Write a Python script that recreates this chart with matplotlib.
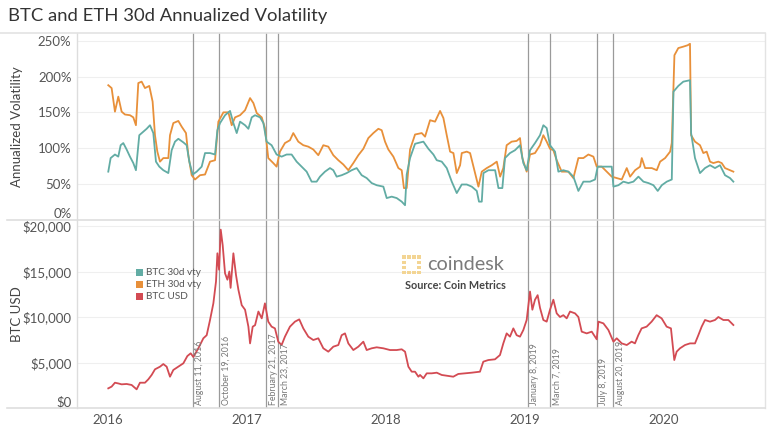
import matplotlib
matplotlib.use("Agg")
import matplotlib.pyplot as plt
from matplotlib.patches import Rectangle
from matplotlib.lines import Line2D
import datetime as dt

# ---------------- data ----------------
eth_vol_t = [2016.002, 2016.026, 2016.050, 2016.074, 2016.098, 2016.122, 2016.158, 2016.182, 2016.201, 2016.218,
             2016.242, 2016.266, 2016.297, 2016.321, 2016.338, 2016.355, 2016.374, 2016.398, 2016.434, 2016.446,
             2016.470, 2016.506, 2016.530, 2016.561, 2016.578, 2016.602, 2016.626, 2016.662, 2016.698, 2016.734,
             2016.770, 2016.794, 2016.830, 2016.866, 2016.890, 2016.914, 2016.950, 2016.986, 2017.022, 2017.046,
             2017.070, 2017.106, 2017.129, 2017.153, 2017.189, 2017.213, 2017.237, 2017.273, 2017.309, 2017.333,
             2017.369, 2017.405, 2017.441, 2017.477, 2017.513, 2017.549, 2017.585, 2017.621, 2017.657, 2017.693,
             2017.729, 2017.765, 2017.801, 2017.837, 2017.873, 2017.909, 2017.945, 2017.969, 2017.993, 2018.017,
             2018.053, 2018.089, 2018.113, 2018.129, 2018.149, 2018.173, 2018.209, 2018.257, 2018.281, 2018.317,
             2018.353, 2018.389, 2018.413, 2018.437, 2018.461, 2018.485, 2018.509, 2018.533, 2018.545, 2018.581,
             2018.605, 2018.629, 2018.665, 2018.689, 2018.725, 2018.761, 2018.797, 2018.821, 2018.844, 2018.868,
             2018.904, 2018.940, 2018.964, 2018.981, 2019.012, 2019.036, 2019.072, 2019.108, 2019.132, 2019.156,
             2019.180, 2019.204, 2019.228, 2019.264, 2019.312, 2019.348, 2019.384, 2019.420, 2019.456, 2019.492,
             2019.516, 2019.552, 2019.588, 2019.624, 2019.660, 2019.696, 2019.732, 2019.756, 2019.792, 2019.828,
             2019.840, 2019.864, 2019.912, 2019.948, 2019.972, 2020.008, 2020.044, 2020.056, 2020.075, 2020.103,
             2020.139, 2020.171, 2020.187, 2020.195, 2020.223, 2020.259, 2020.283, 2020.307, 2020.331, 2020.355,
             2020.391, 2020.415, 2020.439, 2020.475, 2020.499]
eth_vol = [188, 184, 151, 172, 151, 147, 146, 143, 132, 191,
           193, 184, 187, 165, 118, 95, 81, 86, 86, 118,
           135, 138, 130, 121, 90, 62, 56, 62, 63, 81,
           83, 137, 150, 150, 132, 143, 146, 153, 170, 163,
           149, 143, 128, 86, 79, 74, 95, 107, 111, 121,
           109, 104, 102, 98, 90, 104, 102, 90, 83, 77,
           69, 79, 90, 99, 114, 121, 127, 125, 109, 98,
           88, 72, 69, 44, 44, 98, 119, 121, 116, 139,
           137, 152, 142, 118, 95, 93, 65, 76, 93, 95,
           93, 74, 46, 67, 72, 76, 81, 60, 72, 104,
           109, 110, 114, 86, 67, 91, 93, 104, 118, 109,
           99, 97, 83, 67, 67, 58, 86, 86, 91, 88,
           74, 74, 67, 60, 58, 56, 72, 60, 69, 74,
           86, 72, 72, 69, 81, 86, 95, 107, 230, 240,
           242, 244, 246, 118, 109, 104, 93, 95, 81, 79,
           81, 79, 72, 69, 67]

btc_vol_t = [2016.002, 2016.019, 2016.050, 2016.074, 2016.091, 2016.110, 2016.134, 2016.158, 2016.182, 2016.201,
             2016.225, 2016.254, 2016.278, 2016.302, 2016.326, 2016.345, 2016.369, 2016.398, 2016.434, 2016.458,
             2016.482, 2016.506, 2016.542, 2016.566, 2016.585, 2016.609, 2016.638, 2016.674, 2016.698, 2016.734,
             2016.770, 2016.787, 2016.806, 2016.842, 2016.878, 2016.902, 2016.926, 2016.950, 2016.986, 2017.010,
             2017.034, 2017.058, 2017.094, 2017.118, 2017.141, 2017.177, 2017.213, 2017.249, 2017.285, 2017.321,
             2017.357, 2017.393, 2017.429, 2017.465, 2017.501, 2017.525, 2017.561, 2017.597, 2017.621, 2017.645,
             2017.681, 2017.717, 2017.753, 2017.789, 2017.825, 2017.861, 2017.897, 2017.933, 2017.981, 2018.005,
             2018.041, 2018.077, 2018.113, 2018.137, 2018.149, 2018.173, 2018.209, 2018.269, 2018.305, 2018.341,
             2018.365, 2018.401, 2018.437, 2018.473, 2018.509, 2018.545, 2018.581, 2018.617, 2018.653, 2018.669,
             2018.689, 2018.701, 2018.737, 2018.785, 2018.809, 2018.837, 2018.856, 2018.892, 2018.928, 2018.964,
             2018.988, 2019.012, 2019.036, 2019.072, 2019.108, 2019.132, 2019.156, 2019.180, 2019.216, 2019.240,
             2019.276, 2019.312, 2019.348, 2019.384, 2019.420, 2019.468, 2019.504, 2019.523, 2019.552, 2019.588,
             2019.624, 2019.636, 2019.672, 2019.708, 2019.744, 2019.780, 2019.816, 2019.852, 2019.888, 2019.924,
             2019.955, 2019.984, 2020.020, 2020.056, 2020.068, 2020.103, 2020.139, 2020.187, 2020.195, 2020.223,
             2020.259, 2020.295, 2020.331, 2020.367, 2020.403, 2020.439, 2020.475, 2020.499]
btc_vol = [67, 86, 91, 88, 104, 107, 98, 88, 79, 69,
           118, 123, 127, 132, 121, 81, 74, 69, 65, 97,
           109, 113, 108, 104, 81, 63, 67, 74, 93, 93,
           91, 125, 135, 146, 152, 135, 121, 137, 132, 127,
           143, 146, 143, 135, 109, 104, 91, 88, 91, 91,
           81, 74, 67, 53, 53, 60, 67, 72, 69, 60,
           62, 65, 69, 72, 62, 58, 51, 48, 46, 30,
           32, 30, 25, 20, 63, 86, 106, 109, 99, 91,
           83, 81, 72, 53, 37, 49, 49, 46, 40, 25,
           25, 65, 69, 69, 44, 44, 86, 93, 97, 104,
           79, 69, 97, 107, 118, 132, 128, 104, 95, 67,
           69, 67, 60, 40, 53, 53, 56, 74, 74, 74,
           74, 46, 48, 53, 51, 53, 60, 53, 51, 48,
           40, 48, 53, 56, 179, 187, 193, 195, 121, 86,
           65, 72, 76, 72, 76, 62, 58, 53]

price_t = [2016.002, 2016.026, 2016.050, 2016.074, 2016.098, 2016.134, 2016.170, 2016.206, 2016.230, 2016.266,
           2016.290, 2016.314, 2016.338, 2016.374, 2016.398, 2016.422, 2016.446, 2016.470, 2016.506, 2016.542,
           2016.571, 2016.595, 2016.614, 2016.650, 2016.686, 2016.710, 2016.734, 2016.758, 2016.777, 2016.787,
           2016.799, 2016.811, 2016.825, 2016.842, 2016.859, 2016.873, 2016.882, 2016.902, 2016.921, 2016.938,
           2016.962, 2016.986, 2017.010, 2017.022, 2017.041, 2017.058, 2017.082, 2017.106, 2017.129, 2017.153,
           2017.177, 2017.201, 2017.225, 2017.249, 2017.273, 2017.309, 2017.345, 2017.376, 2017.405, 2017.441,
           2017.477, 2017.513, 2017.549, 2017.585, 2017.621, 2017.657, 2017.681, 2017.705, 2017.729, 2017.765,
           2017.801, 2017.837, 2017.861, 2017.897, 2017.933, 2017.981, 2018.029, 2018.077, 2018.113, 2018.137,
           2018.161, 2018.185, 2018.209, 2018.233, 2018.245, 2018.269, 2018.293, 2018.329, 2018.365, 2018.401,
           2018.448, 2018.484, 2018.520, 2018.568, 2018.616, 2018.676, 2018.700, 2018.736, 2018.784, 2018.820,
           2018.844, 2018.868, 2018.892, 2018.916, 2018.940, 2018.964, 2018.988, 2019.012, 2019.036, 2019.053,
           2019.072, 2019.091, 2019.108, 2019.132, 2019.156, 2019.180, 2019.204, 2019.228, 2019.252, 2019.276,
           2019.300, 2019.324, 2019.360, 2019.384, 2019.408, 2019.444, 2019.480, 2019.516, 2019.528, 2019.564,
           2019.600, 2019.636, 2019.660, 2019.696, 2019.732, 2019.767, 2019.791, 2019.815, 2019.839, 2019.875,
           2019.911, 2019.947, 2019.983, 2020.019, 2020.050, 2020.074, 2020.091, 2020.115, 2020.151, 2020.187,
           2020.223, 2020.247, 2020.271, 2020.295, 2020.331, 2020.367, 2020.391, 2020.427, 2020.463, 2020.499]
price_usd = [2160, 2350, 2780, 2700, 2600, 2640, 2530, 2050, 2780, 2780,
             3150, 3630, 4250, 4540, 4830, 4540, 3440, 4180, 4540, 4910,
             5710, 6010, 5600, 6560, 7660, 8000, 9670, 11500, 13900, 17000,
             15200, 19600, 17900, 14800, 14100, 15000, 13200, 17000, 14600, 13000,
             11300, 10800, 8940, 7100, 8940, 9100, 10600, 9850, 11500, 9490,
             8940, 8750, 7290, 6920, 7840, 8940, 9490, 9740, 8750, 7840,
             7470, 7660, 6560, 6190, 6740, 6920, 8000, 8200, 7100, 6370,
             6740, 7290, 6370, 6560, 6670, 6560, 6370, 6370, 6450, 6190,
             4540, 3990, 3990, 3440, 3630, 3260, 3810, 3810, 3880, 3630,
             3520, 3440, 3740, 3810, 3880, 3990, 5090, 5270, 5350, 5820,
             7100, 8200, 7840, 8750, 8000, 7840, 8570, 9670, 12800, 10800,
             11900, 12400, 11000, 9670, 9490, 10800, 11900, 10400, 10000, 10200,
             9850, 10600, 10400, 10000, 8390, 8200, 8390, 7550, 9490, 9300,
             8570, 7290, 7660, 7100, 6920, 7290, 7100, 8000, 8750, 8940,
             9490, 10200, 9850, 8940, 8750, 5270, 6190, 6560, 6920, 7100,
             7100, 8000, 8940, 9670, 9490, 9670, 10000, 9670, 9670, 9120]

event_dates = ["2016-08-11", "2016-10-19", "2017-02-21", "2017-03-23",
               "2019-01-08", "2019-03-07", "2019-07-08", "2019-08-20"]
event_labels = ["August 11, 2016", "October 19, 2016", "February 21, 2017", "March 23, 2017",
                "January 8, 2019", "March 7, 2019", "July 8, 2019", "August 20, 2019"]

year_ticks = [2016, 2017, 2018, 2019, 2020]
vol_ticks = [0, 50, 100, 150, 200, 250]
price_ticks = [0, 5000, 10000, 15000, 20000]
series_names = ["BTC 30d vty", "ETH 30d vty", "BTC USD"]

# ---------------- style ----------------
TEAL = "#62aca4"
ORANGE = "#e8903a"
RED = "#d34b53"
FONT = ["Lato", "DejaVu Sans"]
plt.rcParams["font.family"] = FONT

W, H = 775, 428
fig = plt.figure(figsize=(W / 100, H / 100), dpi=100)
fig.patch.set_facecolor("white")


def fx(x):
    return x / W


def fy(y):
    return 1 - y / H


def dec_year(s):
    d = dt.date.fromisoformat(s)
    start = dt.date(d.year, 1, 1)
    n = (dt.date(d.year + 1, 1, 1) - start).days
    return d.year + (d - start).days / n


L, R = 77, 765
TOP, MID, BOT = 33, 219.5, 408
ax1 = fig.add_axes([fx(L), fy(MID), fx(R - L), fy(TOP) - fy(MID)])
ax2 = fig.add_axes([fx(L), fy(BOT), fx(R - L), fy(MID) - fy(BOT)])

xmin = 2016 - 31 / 139
xmax = 2016 + 657 / 139

for ax in (ax1, ax2):
    ax.set_xlim(xmin, xmax)
    for s in ("top", "bottom", "right"):
        ax.spines[s].set_visible(False)
    ax.spines["left"].set_color("#dddddd")
    ax.spines["left"].set_linewidth(1.0)
    ax.grid(axis="y", color="#efefef", linewidth=0.8)
    ax.set_axisbelow(True)
    ax.tick_params(axis="both", length=0, labelsize=9.5, labelcolor="#555555", pad=4)

ax1.plot(eth_vol_t, eth_vol, color=ORANGE, lw=1.3, zorder=3)
ax1.plot(btc_vol_t, btc_vol, color=TEAL, lw=1.3, zorder=4)
ax2.plot(price_t, price_usd, color=RED, lw=1.3, zorder=3)

ax1.set_ylim(0, (MID - TOP) * 1.4)
ax1.set_yticks(vol_ticks)
ax1.set_yticklabels([f"{v}%" for v in vol_ticks])
ax1.set_xticks([])

ax2.set_ylim(0, (BOT - MID) / 9.1 * 1000)
ax2.set_yticks(price_ticks)
ax2.set_yticklabels([f"${v:,}" for v in price_ticks])
ax2.set_xticks(year_ticks)
ax2.set_xticklabels([str(y) for y in year_ticks])
ax2.tick_params(axis="x", labelsize=9.5, pad=4)

ax1.get_yticklabels()[0].set_va("bottom")
ax2.get_yticklabels()[0].set_va("bottom")

ax1.set_ylabel("Annualized Volatility", fontsize=9.5, color="#444444")
ax2.set_ylabel("BTC USD", fontsize=9.5, color="#444444")
lab_x = (23 - L) / (R - L)
ax1.yaxis.set_label_coords(lab_x, 0.5)
ax2.yaxis.set_label_coords(lab_x, 0.5)

# event lines
for d, lab in zip(event_dates, event_labels):
    x = dec_year(d)
    for ax in (ax1, ax2):
        ax.axvline(x, color="#9a9a9a", lw=0.9, zorder=2)
    ax2.annotate(lab, xy=(x, 0), xycoords=("data", "axes fraction"),
                 xytext=(2, 2), textcoords="offset points",
                 rotation=90, ha="left", va="bottom", fontsize=6.3, color="#777777")

# right border and horizontal frame lines
fig.add_artist(Line2D([fx(R), fx(R)], [fy(BOT), fy(TOP)], color="#e3e3e3", lw=1.0))
fig.add_artist(Line2D([0, fx(R)], [fy(TOP), fy(TOP)], color="#e3e3e3", lw=1.2))
fig.add_artist(Line2D([fx(7), fx(R)], [fy(MID), fy(MID)], color="#dedede", lw=1.2))
fig.add_artist(Line2D([fx(7), fx(R)], [fy(BOT), fy(BOT)], color="#dedede", lw=1.2))

# title
fig.text(fx(8), fy(16), "BTC and ETH 30d Annualized Volatility", fontsize=13.3,
         color="#333333", ha="left", va="center")

# legend
for i, (name, col) in enumerate(zip(series_names, [TEAL, ORANGE, RED])):
    yc = 272.5 + i * 12.2
    fig.add_artist(Rectangle((fx(135.5), fy(yc + 3.5)), fx(7), fy(yc - 3.5) - fy(yc + 3.5),
                             transform=fig.transFigure, color=col, lw=0))
    fig.text(fx(146), fy(yc), name, fontsize=7.2, color="#555555", ha="left", va="center")

# coindesk watermark
LOGO = "#f3d594"
for (gx, gy) in [(0, 0), (1, 0), (2, 0), (3, 0), (0, 1), (3, 1), (0, 2), (3, 2),
                 (0, 3), (1, 3), (2, 3), (3, 3)]:
    fig.add_artist(Rectangle((fx(402 + gx * 5), fy(255.5 + gy * 5 + 3.8)), fx(3.8),
                             fy(255.5) - fy(259.3), transform=fig.transFigure,
                             color=LOGO, lw=0))
fig.text(fx(427), fy(264), "coindesk", fontsize=14.3, color="#7a7a7a", ha="left", va="center")
fig.text(fx(405), fy(285.5), "Source: Coin Metrics", fontsize=7.8, color="#444444",
         ha="left", va="center", fontweight="bold")

fig.savefig("out.png", dpi=100, facecolor="white")
